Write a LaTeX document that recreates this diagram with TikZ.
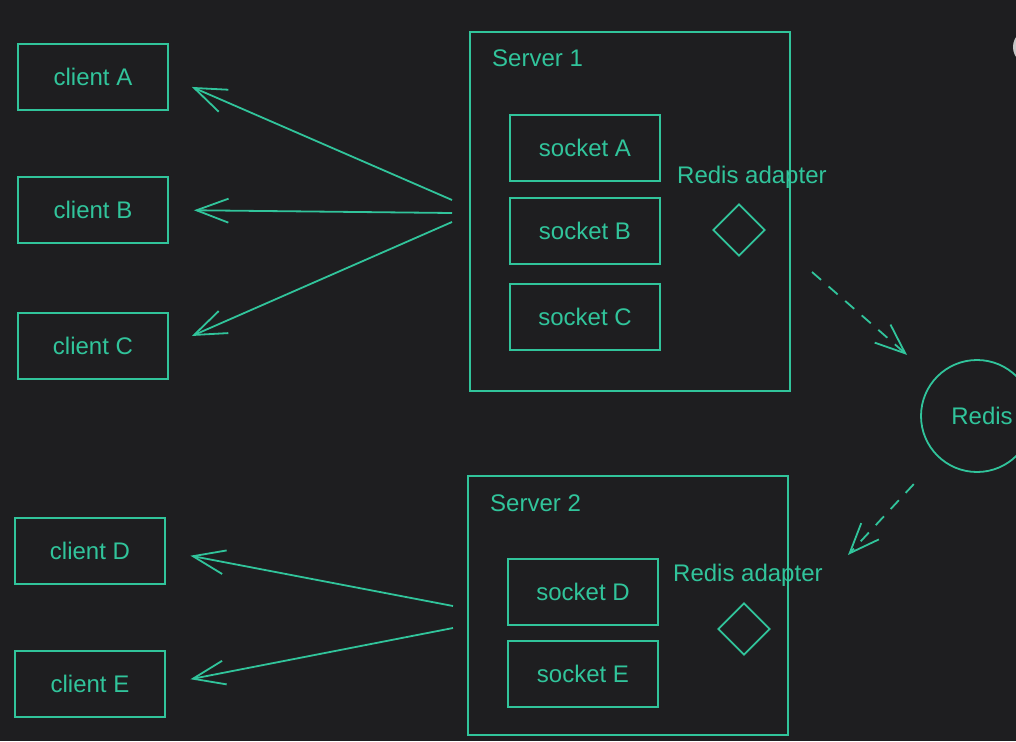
\documentclass[tikz,border=0pt]{standalone}
\usepackage{fontspec}
\setmainfont{Liberation Sans}
\usetikzlibrary{arrows.meta,shapes.geometric}
\definecolor{bg}{HTML}{1E1E20}
\definecolor{ink}{HTML}{31C49B}
\tikzset{
	box/.style={draw=ink, line width=1.8pt, rectangle, minimum width=150pt, minimum height=66pt, text=ink, font=\fontsize{24}{28}\selectfont},
	srv/.style={draw=ink, line width=1.8pt, rectangle, minimum width=320pt},
	lbl/.style={text=ink, anchor=west, inner sep=0pt, font=\fontsize{24}{28}\selectfont},
	adapter/.style={draw=ink, line width=1.8pt, diamond, minimum size=52pt, inner sep=0pt},
	link/.style={draw=ink, line width=1.8pt, -{Straight Barb[length=32pt,width=24pt]}, shorten >=25pt},
	sync/.style={draw=ink, line width=1.8pt, dash pattern=on 12pt off 10pt, -{Straight Barb[length=30pt,width=24pt]}}
}
\begin{document}
\begin{tikzpicture}[x=1pt,y=-1pt]
	\fill[bg] (0,0) rectangle (1016,741);
	\useasboundingbox (0,0) rectangle (1016,741);
	\fill[gray!45] (1031,47) circle (18);
	
	\node[box] (clientA) at (93,77) {client A};
	\node[box] (clientB) at (93,210) {client B};
	\node[box] (clientC) at (93,346) {client C};
	\node[box] (clientD) at (90,551) {client D};
	\node[box] (clientE) at (90,684) {client E};
	
	\node[srv, minimum height=359pt] (server1) at (630,211.5) {};
	\node[lbl] (title1) at (492,58) {Server 1};
	\node[box] (socketA) at (585,148) {socket A};
	\node[box] (socketB) at (585,231) {socket B};
	\node[box] (socketC) at (585,317) {socket C};
	\node[lbl] (label1) at (677,177) {Redis adapter};
	\node[adapter] (adapter1) at (739,230) {};
	
	\node[srv, minimum height=259pt] (server2) at (628,605.5) {};
	\node[lbl] (title2) at (490,503) {Server 2};
	\node[box] (socketD) at (583,592) {socket D};
	\node[box] (socketE) at (583,674) {socket E};
	\node[lbl] (label2) at (673,575) {Redis adapter};
	\node[adapter] (adapter2) at (744,629) {};
	
	\node[draw=ink, line width=1.8pt, circle, minimum size=112pt, text=ink, font=\fontsize{24}{28}\selectfont] (redis) at (977,416) {\hspace{10pt}Redis};
	
	\coordinate (hubA) at (452,200);
	\coordinate (hubB) at (452,213);
	\coordinate (hubC) at (452,222);
	\coordinate (hubD) at (453,606);
	\coordinate (hubE) at (453,628);
	\coordinate (out1) at (812,272);
	\coordinate (in2) at (848,555);
	
	\draw[link] (hubA) -- (clientA.east);
	\draw[link] (hubB) -- (clientB.east);
	\draw[link] (hubC) -- (clientC.east);
	\draw[link] (hubD) -- (clientD.east);
	\draw[link] (hubE) -- (clientE.east);
	\draw[sync, shorten >=36pt] (out1) -- (redis);
	\draw[sync, shorten <=36pt] (redis) -- (in2);
\end{tikzpicture}
\end{document}
